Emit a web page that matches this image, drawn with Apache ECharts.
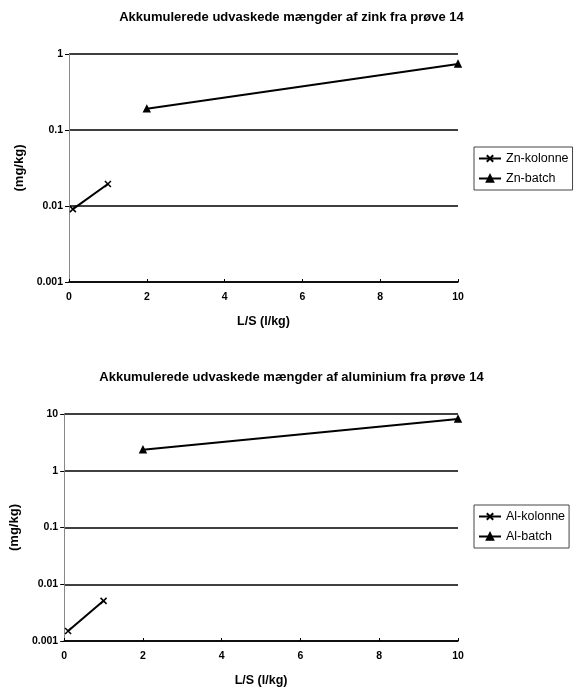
<!DOCTYPE html>
<html>
<head>
<meta charset="utf-8">
<script src="https://cdn.jsdelivr.net/npm/echarts@6/dist/echarts.min.js"></script>
<style>
  html, body { margin: 0; padding: 0; background: #fff; }
  #chart { width: 583px; height: 690px; }
</style>
</head>
<body>
<div id="chart"></div>
<script>
// Zink
const znKolonneX = [0.1, 1]
const znKolonneY = [0.0091, 0.0195]
const znBatchX = [2, 10]
const znBatchY = [0.19, 0.74]
// Aluminium
const alKolonneX = [0.1, 1]
const alKolonneY = [0.0015, 0.0051]
const alBatchX = [2, 10]
const alBatchY = [2.35, 8.2]

const titles = [
  'Akkumulerede udvaskede mængder af zink fra prøve 14',
  'Akkumulerede udvaskede mængder af aluminium fra prøve 14'
]

const pairs = (xs, ys) => xs.map((x, i) => [x, ys[i]])
const crossSymbol = 'path://M0,0L10,10M10,0L0,10'
const font = 'Liberation Sans, Arial, sans-serif'

const chart = echarts.init(document.getElementById('chart'))

function xAxisOpt(gridIndex) {
  return {
    gridIndex,
    type: 'value',
    min: 0,
    max: 10,
    interval: 2,
    name: 'L/S (l/kg)',
    nameLocation: 'middle',
    nameGap: 33,
    nameTextStyle: { color: '#000', fontWeight: 'bold', fontSize: 12.5, fontFamily: font },
    axisLine: { lineStyle: { color: '#000', width: 1.5 } },
    axisTick: { show: true, inside: true, length: 3, lineStyle: { color: '#000' } },
    axisLabel: { color: '#000', fontWeight: 'bold', fontSize: 10.5, fontFamily: font, margin: 10 },
    splitLine: { show: false }
  }
}

function yAxisOpt(gridIndex, max) {
  return {
    gridIndex,
    type: 'log',
    logBase: 10,
    min: 0.001,
    max,
    name: '(mg/kg)',
    nameLocation: 'middle',
    nameGap: 42,
    nameTextStyle: { color: '#000', fontWeight: 'bold', fontSize: 13, fontFamily: font },
    axisLine: { show: true, lineStyle: { color: '#888', width: 1 } },
    axisTick: { show: true, length: 4, lineStyle: { color: '#000' } },
    axisLabel: {
      color: '#000', fontWeight: 'bold', fontSize: 10.5, fontFamily: font, margin: 6,
      formatter: v => String(+v.toPrecision(1))
    },
    splitLine: { show: true, lineStyle: { color: '#000', width: 1.5 } }
  }
}

function lineSeries(name, data, idx, symbol, size) {
  return {
    name,
    type: 'line',
    xAxisIndex: idx,
    yAxisIndex: idx,
    data,
    symbol,
    symbolSize: size,
    showAllSymbol: true,
    lineStyle: { color: '#000', width: 2 },
    itemStyle: { color: '#000', borderColor: '#000', borderWidth: 1.5 }
  }
}

function legendOpt(names, top) {
  return {
    data: names,
    orient: 'vertical',
    left: 474,
    top,
    itemWidth: 22,
    itemHeight: 8,
    itemGap: 7,
    padding: [5, 4, 5, 4],
    borderColor: '#444',
    borderWidth: 1,
    borderRadius: 0,
    textStyle: { color: '#000', fontSize: 12.5, fontFamily: font },
    inactiveColor: '#000'
  }
}

chart.setOption({
  backgroundColor: '#fff',
  animation: false,
  title: [
    { text: titles[0], left: 'center', top: 6,
      textStyle: { fontSize: 13, fontWeight: 'bold', color: '#000', fontFamily: font } },
    { text: titles[1], left: 'center', top: 366,
      textStyle: { fontSize: 13, fontWeight: 'bold', color: '#000', fontFamily: font } }
  ],
  grid: [
    { left: 69, top: 54, width: 389, height: 228 },
    { left: 63, top: 414, width: 395, height: 227 }
  ],
  xAxis: [xAxisOpt(0), xAxisOpt(1)],
  yAxis: [yAxisOpt(0, 1), yAxisOpt(1, 10)],
  legend: [
    legendOpt(['Zn-kolonne', 'Zn-batch'], 147),
    legendOpt(['Al-kolonne', 'Al-batch'], 505)
  ],
  series: [
    lineSeries('Zn-kolonne', pairs(znKolonneX, znKolonneY), 0, crossSymbol, 6),
    lineSeries('Zn-batch', pairs(znBatchX, znBatchY), 0, 'triangle', 6),
    lineSeries('Al-kolonne', pairs(alKolonneX, alKolonneY), 1, crossSymbol, 6),
    lineSeries('Al-batch', pairs(alBatchX, alBatchY), 1, 'triangle', 6)
  ]
})
</script>
</body>
</html>
